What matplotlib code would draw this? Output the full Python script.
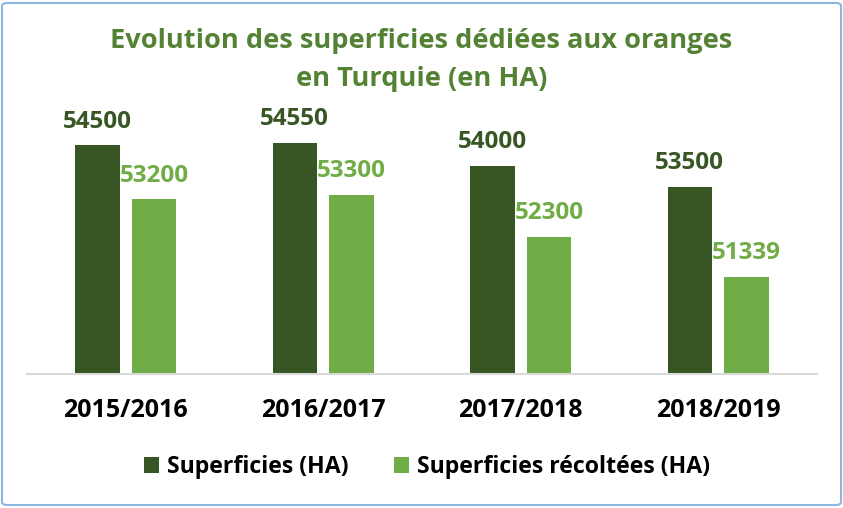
import matplotlib
matplotlib.use("Agg")
import matplotlib.pyplot as plt
from matplotlib.patches import FancyBboxPatch
import numpy as np

categories = ["2015/2016", "2016/2017", "2017/2018", "2018/2019"]
superficies = [54500, 54550, 54000, 53500]
recoltees = [53200, 53300, 52300, 51339]
series_names = ["Superficies (HA)", "Superficies récoltées (HA)"]
title = "Evolution des superficies dédiées aux oranges\nen Turquie (en HA)"

dark = "#375623"
light = "#70AD47"
title_col = "#548235"
FONT = "Open Sans"

W, H = 843, 508
fig = plt.figure(figsize=(W / 100, H / 100), dpi=100)

# frame
frame = FancyBboxPatch((2 / W, 3 / H), (W - 4) / W, (H - 6) / H,
                       boxstyle="round,pad=0,rounding_size=0.006",
                       transform=fig.transFigure, facecolor="white",
                       edgecolor="#8DB4E2", linewidth=1.5, zorder=-5)
fig.patches.append(frame)

ax = fig.add_axes([27 / W, 1 - 374 / H, (817 - 27) / W, (374 - 83) / H], zorder=2)
ax.set_facecolor("none")
x = np.arange(len(categories))
bw = 0.225
off = 0.144
b1 = ax.bar(x - off, superficies, bw, color=dark, zorder=2)
b2 = ax.bar(x + off, recoltees, bw, color=light, zorder=2)
ax.set_ylim(49000, 56000)
ax.set_xlim(-0.5, len(categories) - 0.5)

for rect, v in zip(b1, superficies):
    ax.annotate(f"{v}", (rect.get_x() + rect.get_width() / 2, v),
                xytext=(0, 8.5), textcoords="offset points",
                ha="center", va="bottom", fontsize=17.5, fontweight="bold",
                color=dark, family=FONT)
for rect, v in zip(b2, recoltees):
    ax.annotate(f"{v}", (rect.get_x() + rect.get_width() / 2, v),
                xytext=(0, 8.5), textcoords="offset points",
                ha="center", va="bottom", fontsize=17.5, fontweight="bold",
                color=light, family=FONT)

for s in ["top", "right", "left"]:
    ax.spines[s].set_visible(False)
ax.spines["bottom"].set_color("#D9D9D9")
ax.spines["bottom"].set_linewidth(1.5)
ax.set_yticks([])
ax.set_xticks(x)
ax.set_xticklabels(categories, fontsize=18, fontweight="bold", family=FONT)
ax.tick_params(axis="x", length=0, pad=17)

fig.text(0.5 * (113 + 730) / W, 1 - 60 / H, title, ha="center", va="center",
         fontsize=19.6, fontweight="bold", color=title_col, family=FONT,
         linespacing=1.55)

leg = fig.legend([b1, b2], series_names, loc="center", bbox_to_anchor=(427 / W, 1 - 467 / H),
                 ncol=2, frameon=False, prop={"family": FONT, "weight": "bold", "size": 16.7},
                 handlelength=0.65, handleheight=0.65, handletextpad=0.35, columnspacing=1.95)

fig.savefig("out.png", dpi=100)
